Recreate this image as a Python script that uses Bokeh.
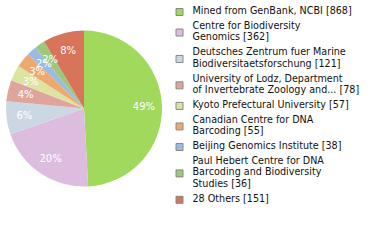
import numpy as np
from bokeh.plotting import figure
from bokeh.models import Range1d, ColumnDataSource
from bokeh.core.properties import value
from bokeh.embed import file_html
from bokeh.resources import INLINE

labels = [
    "Mined from GenBank, NCBI [868]",
    "Centre for Biodiversity\nGenomics [362]",
    "Deutsches Zentrum fuer Marine\nBiodiversitaetsforschung [121]",
    "University of Lodz, Department\nof Invertebrate Zoology and... [78]",
    "Kyoto Prefectural University [57]",
    "Canadian Centre for DNA\nBarcoding [55]",
    "Beijing Genomics Institute [38]",
    "Paul Hebert Centre for DNA\nBarcoding and Biodiversity\nStudies [36]",
    "28 Others [151]",
]
counts = [868, 362, 121, 78, 57, 55, 38, 36, 151]
colors = ["#a0d95b", "#dcbde0", "#cbd8e3", "#dea59d", "#dde3a1",
          "#eda970", "#9bbbe1", "#9dc779", "#d87459"]

W, H = 380, 240
FONT = "DejaVu Sans"

p = figure(width=W, height=H, output_backend="svg", toolbar_location=None,
           x_range=Range1d(0, W), y_range=Range1d(0, H), min_border=0)
p.axis.visible = False
p.grid.visible = False
p.outline_line_color = None
p.background_fill_color = "white"
p.border_fill_color = "white"

def Y(ypix):
    return H - ypix

# pie
cx, cy, r = 83.5, 108, 78
vals = np.array(counts, dtype=float)
frac = vals / vals.sum()
cum = np.concatenate([[0], np.cumsum(frac)])
start = np.pi / 2 - cum[:-1] * 2 * np.pi
end = np.pi / 2 - cum[1:] * 2 * np.pi
src = ColumnDataSource(dict(start=start, end=end, color=colors))
p.wedge(x=cx, y=Y(cy), radius=r, start_angle="start", end_angle="end",
        direction="clock", fill_color="color", line_color=None, source=src)

# pie labels
mid = (cum[:-1] + cum[1:]) / 2 * 2 * np.pi
d = 60
lx = cx + d * np.sin(mid)
ly = Y(cy - d * np.cos(mid))
pct = [f"{int(f * 100)}%" for f in frac]
p.text(x=lx, y=ly, text=pct, text_color="white", text_font=value(FONT),
       text_font_size="10px", text_align="center", text_baseline="middle")

# legend
lh = 11.7
gap = 14.7
y0 = 10.0
tx, ty, tt = [], [], []
sx, sy = [], []
for lab in labels:
    lines = lab.split("\n")
    for k, ln in enumerate(lines):
        tx.append(192)
        ty.append(Y(y0 + k * lh))
        tt.append(ln)
    sx.append(179)
    sy.append(Y(y0 + (len(lines) - 1) * lh / 2 + 1.5))
    y0 += (len(lines) - 1) * lh + gap

p.rect(x=sx, y=sy, width=7, height=7, fill_color=colors, line_color="#888888",
       line_width=1)
p.text(x=tx, y=ty, text=tt, text_color="#111111", text_font=value(FONT),
       text_font_size="9.6px", text_align="left", text_baseline="middle")

open("out.html", "w").write(file_html(p, INLINE))
